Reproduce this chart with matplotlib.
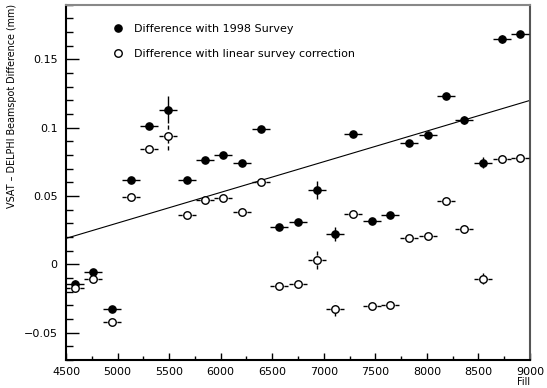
import matplotlib
matplotlib.use("Agg")
import matplotlib.pyplot as plt
from matplotlib.lines import Line2D
from matplotlib.ticker import MultipleLocator

# fill numbers
fill = [4587, 4765, 4943, 5127, 5305, 5486, 5670, 5848, 6026, 6207, 6388, 6566, 6747,
        6932, 7109, 7287, 7465, 7643, 7830, 8008, 8186, 8363, 8541, 8726, 8903]
fill_err = [88] * len(fill)

# difference with 1998 survey (filled)
diff_1998 = [-0.0143, -0.0054, -0.0326, 0.062, 0.101, 0.1132, 0.062, 0.076, 0.080, 0.0743,
             0.0993, 0.0274, 0.0313, 0.0546, 0.022, 0.0951, 0.0318, 0.036, 0.0887, 0.0943,
             0.1232, 0.1059, 0.0743, 0.165, 0.1686]
# difference with linear survey correction (open)
diff_lin = [-0.0172, -0.011, -0.0422, 0.049, 0.0846, 0.0938, 0.0363, 0.047, 0.0485, 0.0385,
            0.0605, -0.0155, -0.0143, 0.0034, -0.0326, 0.0368, -0.0302, -0.0294, 0.0196, 0.0208,
            0.046, 0.0257, -0.0106, 0.0772, 0.0777]
diff_err = [0.003, 0.002, 0.002, 0.002, 0.002, 0.010, 0.002, 0.002, 0.002, 0.002,
            0.002, 0.002, 0.002, 0.0066, 0.005, 0.002, 0.002, 0.002, 0.002, 0.002,
            0.002, 0.003, 0.004, 0.003, 0.002]

# linear fit line end points
line_x = [4500, 9000]
line_y = [0.019, 0.120]

fig = plt.figure(figsize=(5.47, 3.88), dpi=100)
ax = fig.add_axes([0.1207, 0.0722, 0.8483, 0.9156])

ax.plot(line_x, line_y, color="black", lw=0.8, zorder=1)

eb1 = ax.errorbar(fill, diff_1998, xerr=fill_err, yerr=diff_err, fmt="o", color="black",
                  ms=5.2, elinewidth=1.0, capsize=0, zorder=3)
eb2 = ax.errorbar(fill, diff_lin, xerr=fill_err, yerr=diff_err, fmt="o", color="black",
                  mfc="white", mec="black", mew=1.0, ms=5.4, elinewidth=1.0, capsize=0, zorder=3)
for lc in eb2[2]:
    lc.set_linestyle((0, (3, 2)))

ax.set_xlim(4500, 9000)
ax.set_ylim(-0.07, 0.19)
ax.xaxis.set_major_locator(MultipleLocator(500))
ax.xaxis.set_minor_locator(MultipleLocator(250))
ax.yaxis.set_major_locator(MultipleLocator(0.05))
ax.yaxis.set_minor_locator(MultipleLocator(0.01))
ax.set_yticks([-0.05, 0, 0.05, 0.1, 0.15])
ax.set_yticklabels(["\u22120.05", "0", "0.05", "0.1", "0.15"])

ax.tick_params(axis="x", which="major", direction="in", length=5, width=1, labelsize=8, pad=5, top=False)
ax.tick_params(axis="x", which="minor", direction="in", length=3, width=1, top=False)
ax.tick_params(axis="y", which="major", direction="in", length=9, width=1, labelsize=8, pad=6, right=False)
ax.tick_params(axis="y", which="minor", direction="in", length=5, width=1, right=False)

ax.spines["left"].set_linewidth(1.5)
ax.spines["bottom"].set_linewidth(1.5)
ax.spines["top"].set_color("#888888")
ax.spines["top"].set_linewidth(1.5)
ax.spines["right"].set_color("#555555")
ax.spines["right"].set_linewidth(1.5)

ax.set_xlabel("Fill", loc="right", fontsize=7)
ax.xaxis.set_label_coords(1.0, -0.047)
ax.set_ylabel("VSAT \u2013 DELPHI Beamspot Difference (mm)", loc="top", fontsize=6.9)
ax.yaxis.set_label_coords(-0.105, 1.003)

handles = [Line2D([], [], marker="o", ls="none", color="black", ms=5.2),
           Line2D([], [], marker="o", ls="none", mfc="white", mec="black", ms=5.4)]
ax.legend(handles, ["Difference with 1998 Survey", "Difference with linear survey correction"],
          loc="upper left", bbox_to_anchor=(0.10, 0.945), frameon=False, fontsize=8,
          handlelength=1.0, handletextpad=0.95, labelspacing=1.35, borderpad=0, borderaxespad=0)

fig.savefig("out.png", dpi=100)
